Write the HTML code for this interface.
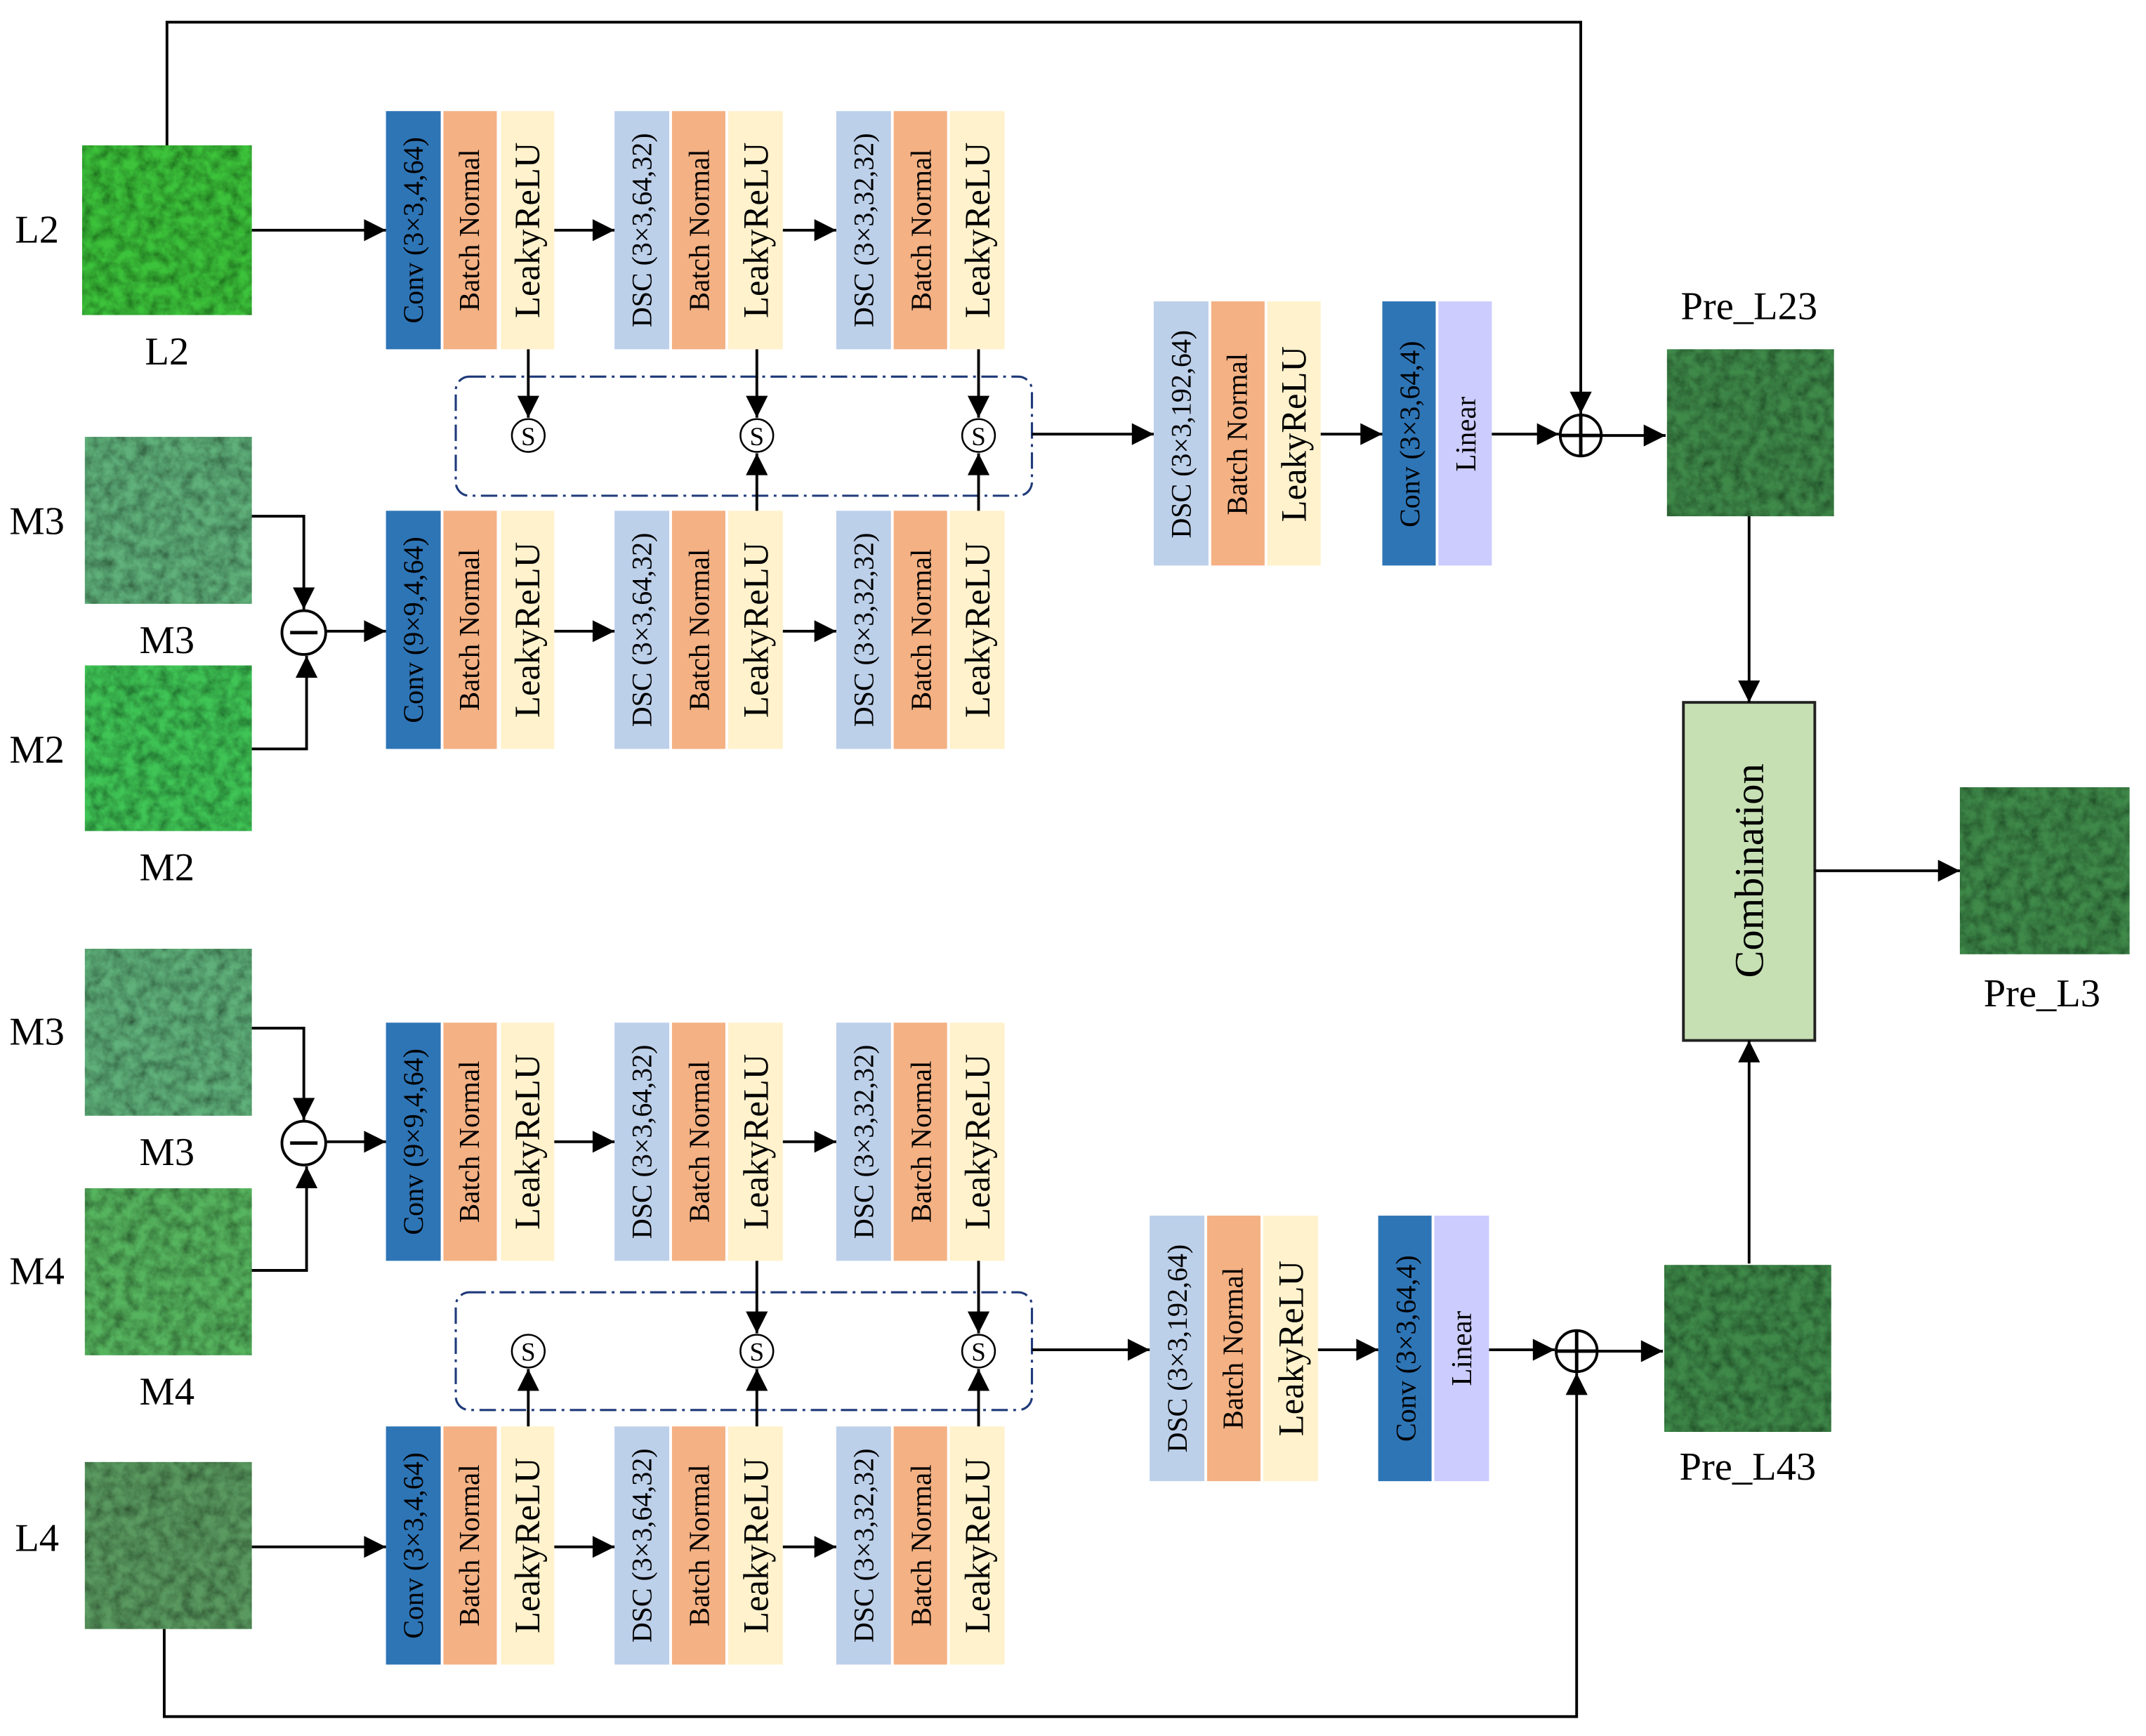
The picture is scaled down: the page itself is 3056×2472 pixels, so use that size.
<!DOCTYPE html>
<html><head><meta charset="utf-8"><style>html,body{margin:0;padding:0;background:#fff}svg{display:block}text{font-family:"Liberation Serif",serif;fill:#000}</style></head>
<body>
<svg width="3056" height="2472" viewBox="0 0 1568 1268" xmlns="http://www.w3.org/2000/svg">
<defs>
<marker id="a" viewBox="0 0 12 12" markerWidth="18" markerHeight="16" refX="12" refY="6" orient="auto" markerUnits="userSpaceOnUse"><path d="M0,0 L12,6 L0,12 z" fill="#000"/></marker>
<filter id="tx" x="0" y="0" width="1" height="1"><feTurbulence type="fractalNoise" baseFrequency="0.12" numOctaves="3" seed="3"/><feColorMatrix values="0 0 0 0 0  0 0 0 0 0  0 0 0 0 0  0 0 0 1.1 -0.3"/><feComposite in2="SourceGraphic" operator="in"/><feBlend in="SourceGraphic" mode="multiply"/></filter>
<g id="trip">
<rect x="0" y="0" width="40" height="174" fill="#2e75b6"/>
<rect x="42" y="0" width="39" height="174" fill="#f4b183"/>
<rect x="84" y="0" width="39" height="174" fill="#fff2cc"/>
</g>
<g id="trip2">
<rect x="0" y="0" width="40" height="174" fill="#bdd0ea"/>
<rect x="42" y="0" width="39" height="174" fill="#f4b183"/>
<rect x="83" y="0" width="40" height="174" fill="#fff2cc"/>
</g>
</defs>
<g stroke="#000" stroke-width="2" fill="none">
<polyline points="122,106 122,16 1155,16 1155,302" marker-end="url(#a)"/>
<polyline points="120,1190 120,1254 1152,1254 1152,1003" marker-end="url(#a)"/>
</g>
<g>
<rect x="60" y="106" width="124" height="124" fill="#3cc23a" filter="url(#tx)"/>
<rect x="62" y="319" width="122" height="122" fill="#5fb07a" filter="url(#tx)"/>
<rect x="62" y="486" width="122" height="121" fill="#3fc455" filter="url(#tx)"/>
<rect x="62" y="693" width="122" height="122" fill="#5fb07a" filter="url(#tx)"/>
<rect x="62" y="868" width="122" height="122" fill="#56b45e" filter="url(#tx)"/>
<rect x="62" y="1068" width="122" height="122" fill="#5a9a60" filter="url(#tx)"/>
<rect x="1218" y="255" width="122" height="122" fill="#3f8a4a" filter="url(#tx)"/>
<rect x="1432" y="575" width="124" height="122" fill="#3f8a4a" filter="url(#tx)"/>
<rect x="1216" y="924" width="122" height="122" fill="#3f8a4a" filter="url(#tx)"/>
</g>
<g font-size="29" text-anchor="middle">
<text x="27" y="177">L2</text><text x="122" y="266">L2</text>
<text x="27" y="390">M3</text><text x="122" y="477">M3</text>
<text x="27" y="557">M2</text><text x="122" y="643">M2</text>
<text x="27" y="763">M3</text><text x="122" y="851">M3</text>
<text x="27" y="938">M4</text><text x="122" y="1026">M4</text>
<text x="27" y="1133">L4</text>
<text x="1278" y="233">Pre_L23</text>
<text x="1492" y="735">Pre_L3</text>
<text x="1277" y="1081">Pre_L43</text>
</g>
<use href="#trip" x="282" y="81"/><use href="#trip2" x="449" y="81"/><use href="#trip2" x="611" y="81"/>
<use href="#trip" x="282" y="373"/><use href="#trip2" x="449" y="373"/><use href="#trip2" x="611" y="373"/>
<use href="#trip" x="282" y="747"/><use href="#trip2" x="449" y="747"/><use href="#trip2" x="611" y="747"/>
<use href="#trip" x="282" y="1042"/><use href="#trip2" x="449" y="1042"/><use href="#trip2" x="611" y="1042"/>
<rect x="843" y="220" width="40" height="193" fill="#bdd0ea"/>
<rect x="885" y="220" width="39" height="193" fill="#f4b183"/>
<rect x="926" y="220" width="39" height="193" fill="#fff2cc"/>
<rect x="1010" y="220" width="39" height="193" fill="#2e75b6"/>
<rect x="1051" y="220" width="39" height="193" fill="#ccccff"/>
<rect x="840" y="888" width="40" height="194" fill="#bdd0ea"/>
<rect x="882" y="888" width="39" height="194" fill="#f4b183"/>
<rect x="923" y="888" width="40" height="194" fill="#fff2cc"/>
<rect x="1007" y="888" width="39" height="194" fill="#2e75b6"/>
<rect x="1048" y="888" width="40" height="194" fill="#ccccff"/>
<g text-anchor="middle">
<g font-size="20.5">
<text transform="translate(302,168) rotate(-90)" dy="7">Conv (3×3,4,64)</text>
<text transform="translate(302,460) rotate(-90)" dy="7">Conv (9×9,4,64)</text>
<text transform="translate(302,834) rotate(-90)" dy="7">Conv (9×9,4,64)</text>
<text transform="translate(302,1129) rotate(-90)" dy="7">Conv (3×3,4,64)</text>
<text transform="translate(469,168) rotate(-90)" dy="7">DSC (3×3,64,32)</text>
<text transform="translate(469,460) rotate(-90)" dy="7">DSC (3×3,64,32)</text>
<text transform="translate(469,834) rotate(-90)" dy="7">DSC (3×3,64,32)</text>
<text transform="translate(469,1129) rotate(-90)" dy="7">DSC (3×3,64,32)</text>
<text transform="translate(631,168) rotate(-90)" dy="7">DSC (3×3,32,32)</text>
<text transform="translate(631,460) rotate(-90)" dy="7">DSC (3×3,32,32)</text>
<text transform="translate(631,834) rotate(-90)" dy="7">DSC (3×3,32,32)</text>
<text transform="translate(631,1129) rotate(-90)" dy="7">DSC (3×3,32,32)</text>
<text transform="translate(863,317) rotate(-90)" dy="7">DSC (3×3,192,64)</text>
<text transform="translate(860,985) rotate(-90)" dy="7">DSC (3×3,192,64)</text>
<text transform="translate(1030,317) rotate(-90)" dy="7">Conv (3×3,64,4)</text>
<text transform="translate(1027,985) rotate(-90)" dy="7">Conv (3×3,64,4)</text>
</g>
<g font-size="21">
<text transform="translate(343,168) rotate(-90)" dy="7">Batch Normal</text>
<text transform="translate(343,460) rotate(-90)" dy="7">Batch Normal</text>
<text transform="translate(343,834) rotate(-90)" dy="7">Batch Normal</text>
<text transform="translate(343,1129) rotate(-90)" dy="7">Batch Normal</text>
<text transform="translate(511,168) rotate(-90)" dy="7">Batch Normal</text>
<text transform="translate(511,460) rotate(-90)" dy="7">Batch Normal</text>
<text transform="translate(511,834) rotate(-90)" dy="7">Batch Normal</text>
<text transform="translate(511,1129) rotate(-90)" dy="7">Batch Normal</text>
<text transform="translate(673,168) rotate(-90)" dy="7">Batch Normal</text>
<text transform="translate(673,460) rotate(-90)" dy="7">Batch Normal</text>
<text transform="translate(673,834) rotate(-90)" dy="7">Batch Normal</text>
<text transform="translate(673,1129) rotate(-90)" dy="7">Batch Normal</text>
<text transform="translate(904,317) rotate(-90)" dy="7">Batch Normal</text>
<text transform="translate(901,985) rotate(-90)" dy="7">Batch Normal</text>
<text transform="translate(1071,317) rotate(-90)" dy="7">Linear</text>
<text transform="translate(1068,985) rotate(-90)" dy="7">Linear</text>
</g>
<g font-size="26">
<text transform="translate(385,168) rotate(-90)" dy="9">LeakyReLU</text>
<text transform="translate(385,460) rotate(-90)" dy="9">LeakyReLU</text>
<text transform="translate(385,834) rotate(-90)" dy="9">LeakyReLU</text>
<text transform="translate(385,1129) rotate(-90)" dy="9">LeakyReLU</text>
<text transform="translate(552,168) rotate(-90)" dy="9">LeakyReLU</text>
<text transform="translate(552,460) rotate(-90)" dy="9">LeakyReLU</text>
<text transform="translate(552,834) rotate(-90)" dy="9">LeakyReLU</text>
<text transform="translate(552,1129) rotate(-90)" dy="9">LeakyReLU</text>
<text transform="translate(714,168) rotate(-90)" dy="9">LeakyReLU</text>
<text transform="translate(714,460) rotate(-90)" dy="9">LeakyReLU</text>
<text transform="translate(714,834) rotate(-90)" dy="9">LeakyReLU</text>
<text transform="translate(714,1129) rotate(-90)" dy="9">LeakyReLU</text>
<text transform="translate(945,317) rotate(-90)" dy="9">LeakyReLU</text>
<text transform="translate(943,985) rotate(-90)" dy="9">LeakyReLU</text>
</g>
</g>
<g fill="none" stroke="#1f3a7a" stroke-width="1.6" stroke-dasharray="12,4,2,4">
<rect x="333" y="275" width="421" height="87" rx="10"/>
<rect x="333" y="944" width="421" height="86" rx="10"/>
</g>
<rect x="1230" y="513" width="96" height="247" fill="#c6e0b4" stroke="#222" stroke-width="2"/>
<text font-size="30" text-anchor="middle" transform="translate(1278,636) rotate(-90)" dy="10">Combination</text>
<g stroke="#000" stroke-width="2" fill="none" marker-end="url(#a)">
<line x1="184" y1="168" x2="282" y2="168"/>
<line x1="405" y1="168" x2="449" y2="168"/>
<line x1="572" y1="168" x2="611" y2="168"/>
<line x1="238" y1="461" x2="282" y2="461"/>
<line x1="405" y1="461" x2="449" y2="461"/>
<line x1="572" y1="461" x2="611" y2="461"/>
<line x1="238" y1="834" x2="282" y2="834"/>
<line x1="405" y1="834" x2="449" y2="834"/>
<line x1="572" y1="834" x2="611" y2="834"/>
<line x1="184" y1="1130" x2="282" y2="1130"/>
<line x1="405" y1="1130" x2="449" y2="1130"/>
<line x1="572" y1="1130" x2="611" y2="1130"/>
<polyline points="184,377 222,377 222,445"/>
<polyline points="184,547 224,547 224,479"/>
<polyline points="184,751 222,751 222,818"/>
<polyline points="184,928 224,928 224,852"/>
<line x1="386" y1="255" x2="386" y2="305"/>
<line x1="553" y1="255" x2="553" y2="305"/>
<line x1="715" y1="255" x2="715" y2="305"/>
<line x1="553" y1="373" x2="553" y2="331"/>
<line x1="715" y1="373" x2="715" y2="331"/>
<line x1="553" y1="921" x2="553" y2="974"/>
<line x1="715" y1="921" x2="715" y2="974"/>
<line x1="386" y1="1042" x2="386" y2="1000"/>
<line x1="553" y1="1042" x2="553" y2="1000"/>
<line x1="715" y1="1042" x2="715" y2="1000"/>
<line x1="754" y1="317" x2="843" y2="317"/>
<line x1="965" y1="317" x2="1010" y2="317"/>
<line x1="1090" y1="317" x2="1139" y2="317"/>
<line x1="1170" y1="318" x2="1217" y2="318"/>
<line x1="754" y1="986" x2="840" y2="986"/>
<line x1="963" y1="986" x2="1007" y2="986"/>
<line x1="1088" y1="986" x2="1136" y2="986"/>
<line x1="1167" y1="987" x2="1215" y2="987"/>
<line x1="1278" y1="377" x2="1278" y2="513"/>
<line x1="1278" y1="923" x2="1278" y2="760"/>
<line x1="1326" y1="636" x2="1432" y2="636"/>
</g>
<g fill="#fff" stroke="#000" stroke-width="2">
<circle cx="222" cy="462" r="16"/><circle cx="222" cy="835" r="16"/>
<circle cx="1155" cy="318" r="15"/><circle cx="1152" cy="987" r="15"/>
</g>
<g stroke="#000" stroke-width="2.5">
<line x1="212" y1="462" x2="232" y2="462"/><line x1="212" y1="835" x2="232" y2="835"/>
<line x1="1140" y1="318" x2="1170" y2="318"/><line x1="1155" y1="303" x2="1155" y2="333"/>
<line x1="1137" y1="987" x2="1167" y2="987"/><line x1="1152" y1="972" x2="1152" y2="1002"/>
</g>
<g fill="#fff" stroke="#000" stroke-width="1.3">
<circle cx="386" cy="318" r="12"/><circle cx="553" cy="318" r="12"/><circle cx="715" cy="318" r="12"/>
<circle cx="386" cy="987" r="12"/><circle cx="553" cy="987" r="12"/><circle cx="715" cy="987" r="12"/>
</g>
<g font-size="19" text-anchor="middle">
<text x="386" y="325">S</text><text x="553" y="325">S</text><text x="715" y="325">S</text>
<text x="386" y="994">S</text><text x="553" y="994">S</text><text x="715" y="994">S</text>
</g>
</svg>
</body></html>
